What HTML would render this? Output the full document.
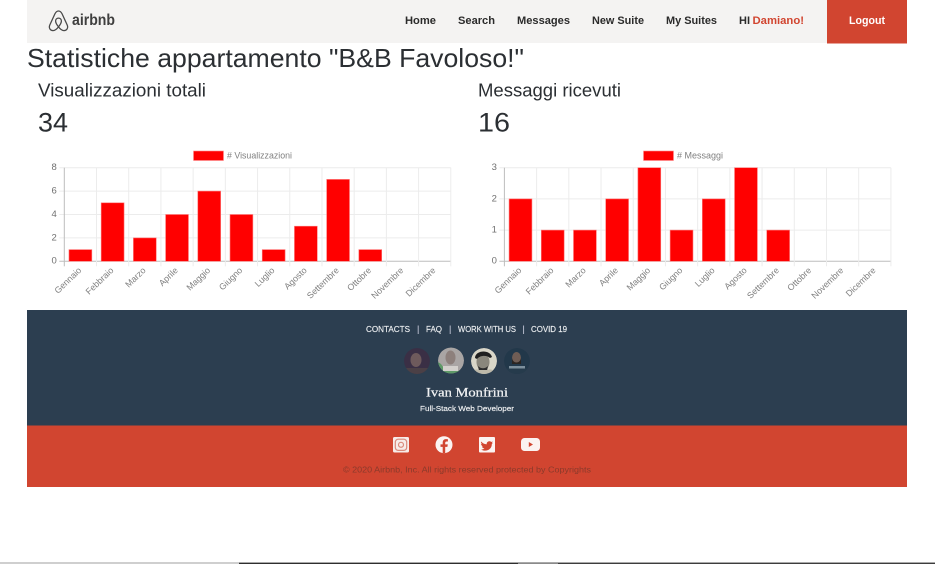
<!DOCTYPE html>
<html lang="it">
<head>
<meta charset="utf-8">
<title>Statistiche appartamento</title>
<style>
html,body{margin:0;padding:0;background:#fff;width:935px;height:564px;overflow:hidden}
svg{display:block;position:absolute;left:0;top:0}
text{font-family:"Liberation Sans",sans-serif}
.nav{font-size:11px;font-weight:700;fill:#2b2b2b}
.flink{font-size:8.5px;fill:#eef0f2;stroke:#eef0f2;stroke-width:.15}
.sep{font-size:9px;fill:#dde}
.chart{filter:blur(.35px)}
.soft{filter:blur(.3px)}
.tick{font-size:9.5px;fill:#707070}
.xtick{font-size:8.8px;fill:#808080}
</style>
</head>
<body>
<svg id="page" width="935" height="564" viewBox="0 0 935 564" xmlns="http://www.w3.org/2000/svg">
  <defs>
    <clipPath id="c1"><circle cx="417" cy="361" r="13"/></clipPath>
    <clipPath id="c2"><circle cx="451" cy="360.5" r="13"/></clipPath>
    <clipPath id="c3"><circle cx="484" cy="361" r="13"/></clipPath>
    <clipPath id="c4"><circle cx="517" cy="361" r="13"/></clipPath>
  </defs>

  <g class="soft">
    <rect x="27" y="0" width="880" height="43" fill="#f4f3f2"/>
    <g>
      <path d="M58.5 11c-1.7 0-2.8 1.2-3.6 2.9L49.8 25c-1.3 3 .5 5.6 3.2 5.6 2.2 0 3.9-1.6 5.5-3.7 1.6 2.1 3.3 3.7 5.5 3.7 2.7 0 4.5-2.600 3.200-5.600l-5.100-11.100C61.300 12.200 60.200 11 58.500 11zM58.500 26.900c-1.800-2.300-2.900-4.300-2.900-5.900 0-1.700 1.200-2.900 2.900-2.900s2.900 1.200 2.900 2.900c0 1.600-1.100 3.600-2.900 5.900z" fill="none" stroke="#4a4a4a" stroke-width="1.300"/>
      <text x="72" y="25" font-size="15.500" font-weight="700" fill="#3f3f3f" textLength="43" lengthAdjust="spacingAndGlyphs">airbnb</text>
    </g>
    <text class="nav" x="405" y="24" textLength="31" lengthAdjust="spacingAndGlyphs">Home</text>
    <text class="nav" x="458" y="24" textLength="37" lengthAdjust="spacingAndGlyphs">Search</text>
    <text class="nav" x="517" y="24" textLength="53" lengthAdjust="spacingAndGlyphs">Messages</text>
    <text class="nav" x="592" y="24" textLength="52" lengthAdjust="spacingAndGlyphs">New Suite</text>
    <text class="nav" x="666" y="24" textLength="51" lengthAdjust="spacingAndGlyphs">My Suites</text>
    <text class="nav" x="739" y="24" textLength="11" lengthAdjust="spacingAndGlyphs">HI</text>
    <text class="nav" x="752.500" y="24" style="fill:#d14530" textLength="51.500" lengthAdjust="spacingAndGlyphs">Damiano!</text>
    <g>
      <rect x="827" y="0" width="80" height="43.500" fill="#d14530"/>
      <text x="849" y="24" font-size="11" font-weight="700" fill="#fff" textLength="36" lengthAdjust="spacingAndGlyphs">Logout</text>
    </g>
  </g>

  <text x="27" y="67" font-size="26" fill="#2b2f33" textLength="497" lengthAdjust="spacingAndGlyphs">Statistiche appartamento "B&amp;B Favoloso!"</text>

  <text x="38" y="96.500" font-size="18" fill="#2b2f33" textLength="168" lengthAdjust="spacingAndGlyphs">Visualizzazioni totali</text>
  <text x="38" y="131.500" font-size="27" fill="#2b2f33" textLength="30" lengthAdjust="spacingAndGlyphs">34</text>
  <text x="478" y="96.500" font-size="18" fill="#2b2f33" textLength="143" lengthAdjust="spacingAndGlyphs">Messaggi ricevuti</text>
  <text x="478" y="131.500" font-size="27" fill="#2b2f33" textLength="32" lengthAdjust="spacingAndGlyphs">16</text>

  <g id="chart-views" class="chart"></g>
  <g id="chart-messages" class="chart"></g>

  <g class="soft">
    <rect x="27" y="310" width="880" height="115.500" fill="#2c3e50"/>
    <text class="flink" x="366" y="332" textLength="44" lengthAdjust="spacingAndGlyphs">CONTACTS</text>
    <text class="sep" x="417" y="332">|</text>
    <text class="flink" x="426" y="332" textLength="16" lengthAdjust="spacingAndGlyphs">FAQ</text>
    <text class="sep" x="449" y="332">|</text>
    <text class="flink" x="458" y="332" textLength="58" lengthAdjust="spacingAndGlyphs">WORK WITH US</text>
    <text class="sep" x="522.500" y="332">|</text>
    <text class="flink" x="531" y="332" textLength="36" lengthAdjust="spacingAndGlyphs">COVID 19</text>

    <g clip-path="url(#c1)">
      <circle cx="417" cy="361" r="13" fill="#3a2f45"/>
      <ellipse cx="416" cy="360" rx="5.500" ry="7" fill="#6e5a5c"/>
      <rect x="405" y="368" width="24" height="8" fill="#4b4046"/>
    </g>
    <g clip-path="url(#c2)">
      <circle cx="451" cy="360.500" r="13" fill="#a9a5a4"/>
      <path d="M438 362a13 13 0 0 0 26 6l-6 3-12 0-5-7z" fill="#5f9a68"/>
      <ellipse cx="450.500" cy="357.500" rx="5" ry="7" fill="#8d807c"/>
      <rect x="443" y="366" width="15" height="5" fill="#d3d0cc"/>
    </g>
    <g clip-path="url(#c3)">
      <circle cx="484" cy="361" r="13" fill="#d9d6c8"/>
      <ellipse cx="483" cy="362" rx="6.500" ry="8.500" fill="#8a877c"/>
      <path d="M475 358c0-8 15-9 17-1l-2 1c-3-3-10-3-13 1z" fill="#1f1f1f"/>
      <path d="M478 366c3 3 7 3 10 0l-1 5h-8z" fill="#2d2d2d"/>
      <path d="M472 372c3-3 5-3 7-2l9 0c2-1 4-1 7 2v4h-23z" fill="#bdb9aa"/>
    </g>
    <g clip-path="url(#c4)">
      <circle cx="517" cy="361" r="13" fill="#22384a"/>
      <ellipse cx="516.500" cy="358" rx="4.500" ry="6" fill="#6f5d55"/>
      <path d="M512 358c1 6 8 6 9 0v6h-9z" fill="#2a2522"/>
      <rect x="509" y="366" width="16" height="2.500" fill="#7d909d"/>
      <rect x="507" y="368.500" width="20" height="6" fill="#263b4c"/>
    </g>

    <text x="426" y="396.500" font-size="13" style="font-family:'Liberation Serif',serif" fill="#f2f3f4" stroke="#f2f3f4" stroke-width=".25" textLength="82" lengthAdjust="spacingAndGlyphs">Ivan Monfrini</text>
    <text x="420" y="411" font-size="7.500" fill="#f2f3f4" stroke="#f2f3f4" stroke-width=".15" textLength="94" lengthAdjust="spacingAndGlyphs">Full-Stack Web Developer</text>
  </g>

  <g class="soft">
    <rect x="27" y="425.500" width="880" height="61.500" fill="#d14530"/>
    <g>
      <rect x="393" y="437" width="16" height="15.500" rx="1.500" fill="#f7ece9"/>
      <rect x="395.300" y="439.200" width="11.400" height="11.200" rx="3" fill="none" stroke="#d98a7c" stroke-width="1.200"/>
      <circle cx="401" cy="444.800" r="2.500" fill="none" stroke="#d98a7c" stroke-width="1.200"/>
    </g>
    <g>
      <circle cx="444" cy="444.700" r="8.500" fill="#fbf3f1"/>
      <path d="M445.200 453.200v-6.300h2.200l.4-2.500h-2.600v-1.500c0-.8.400-1.400 1.500-1.400h1.200v-2.200c-2.900-.5-5.200.2-5.200 3.300v1.800h-2.200v2.500h2.200v6.300z" fill="#d14530"/>
    </g>
    <g>
      <rect x="479" y="437" width="16" height="15.500" rx="1" fill="#fbf3f1"/>
      <path d="M481 441.500c2 2 3.500 2.600 5.700 2.800-.3-2.700 2.900-3.900 4.500-2.300l1.500-.6-.8 1.600 1-.2-1.100 1.300c.1 4-3.400 7-7.500 6.500-1.200-.1-2.300-.5-3.200-1.100 1.300 0 2.400-.3 3.300-1-1.300-.2-2.100-.9-2.500-2h1.200c-1.300-.5-2-1.400-2.100-2.700l1.200.3c-1.100-.8-1.500-1.900-1.200-2.600z" fill="#d14530"/>
    </g>
    <g>
      <rect x="521" y="438" width="19" height="13" rx="3.500" fill="#fbf3f1"/>
      <path d="M528.800 442v5l4.200-2.500z" fill="#d14530"/>
    </g>
    <text x="343" y="472.500" font-size="8.500" fill="#8a3a2b" textLength="248" lengthAdjust="spacingAndGlyphs">© 2020 Airbnb, Inc. All rights reserved protected by Copyrights</text>
  </g>

  <g>
    <rect x="0" y="562" width="239" height="2" fill="#cfcfcf"/>
    <rect x="239" y="562" width="696" height="1" fill="#a9a9a9"/>
    <rect x="239" y="563" width="279" height="1" fill="#2e2e2e"/>
    <rect x="518" y="563" width="40" height="1" fill="#8a8a8a"/>
    <rect x="558" y="563" width="377" height="1" fill="#3c3c3c"/>
  </g>
</svg>

<script>
var months = ["Gennaio","Febbraio","Marzo","Aprile","Maggio","Giugno","Luglio","Agosto","Settembre","Ottobre","Novembre","Dicembre"];
var viewsValues = [1,5,2,4,6,4,1,3,7,1,0,0];
var messagesValues = [2,1,1,2,3,1,2,3,1,0,0,0];
var viewsTicks = [0,2,4,6,8];
var messagesTicks = [0,1,2,3];
var viewsLegend = "# Visualizzazioni";
var messagesLegend = "# Messaggi";

var NS = "http://www.w3.org/2000/svg";
function mk(parent, tag, attrs, txt) {
  var e = document.createElementNS(NS, tag);
  for (var k in attrs) e.setAttribute(k, attrs[k]);
  if (txt !== undefined) e.textContent = txt;
  parent.appendChild(e);
  return e;
}
function drawChart(id, left, values, ticks, legendLabel, legendX, legendW) {
  var root = document.getElementById(id);
  var right = left + 386.5, top = 167.7, bottom = 261.3;
  var maxV = ticks[ticks.length - 1];
  var n = values.length, step = (right - left) / n;
  function xScale(i) { return left + step * i; }
  function yScale(v) { return bottom - (v / maxV) * (bottom - top); }

  var sw = mk(root, "rect", {x: legendX, y: 151, width: 30, height: 9.5, fill: "#ff0000", stroke: "#ff8a8a", "stroke-width": 0.6});
  
  
  var lt = mk(root, "text", {x: legendX + 33.5, y: 158.5, "font-size": 9.5, fill: "#808080", textLength: legendW, lengthAdjust: "spacingAndGlyphs"}, legendLabel);
  
  

  ticks.forEach(function (t) {
    var y = yScale(t);
    var g = mk(root, "line", {x1: left - 5, x2: right, y1: y, y2: y, stroke: t === 0 ? "#bdbdbd" : "#ececec", "stroke-width": 1});
    
    
    var l = mk(root, "text", {class: "tick", x: left - 7.5, y: y + 2.4, "text-anchor": "end"}, String(t));
    
    
  });
  for (var i = 0; i <= n; i++) {
    var gx = xScale(i);
    var v = mk(root, "line", {x1: gx, x2: gx, y1: top, y2: bottom + 5, stroke: i === 0 ? "#bdbdbd" : "#ececec", "stroke-width": 1});
    
    
  }
  var barW = step * 0.71;
  values.forEach(function (val, i) {
    if (val > 0) {
      var yy = yScale(val);
      var b = mk(root, "rect", {x: xScale(i) + (step - barW) / 2, y: yy, width: barW, height: bottom - yy, fill: "#ff0000", stroke: "#ff7a7a", "stroke-width": 0.6});
      
      
    }
    var cx = xScale(i) + step / 2 + 1.5, cy = 271;
    var t = mk(root, "text", {class: "xtick", x: cx, y: cy, "text-anchor": "end", transform: "rotate(-44 " + cx + " " + cy + ")"}, months[i]);
    
    
  });
}
drawChart("chart-views", 64.3, viewsValues, viewsTicks, viewsLegend, 193.5, 65);
drawChart("chart-messages", 504.4, messagesValues, messagesTicks, messagesLegend, 643.5, 46);
</script>
</body>
</html>
